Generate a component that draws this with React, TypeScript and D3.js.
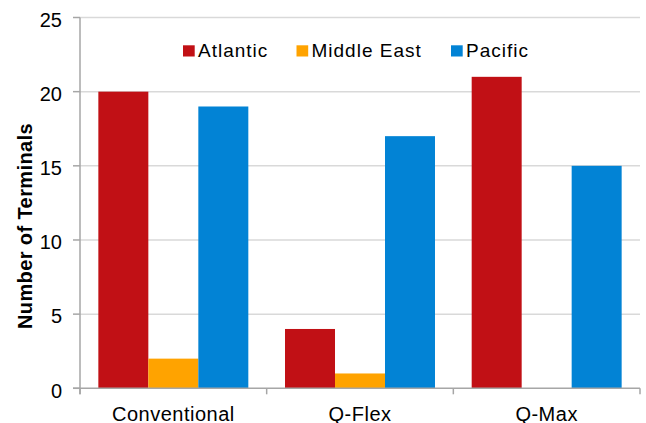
import React from "react";
import * as d3 from "d3";

const categories = ["Conventional", "Q-Flex", "Q-Max"];
const seriesNames = ["Atlantic", "Middle East", "Pacific"];
const atlantic = [20, 4, 21];
const middleEast = [2, 1, 0];
const pacific = [19, 17, 15];
const yTicks = [0, 5, 10, 15, 20, 25];
const colors = ["#C11015", "#FFA300", "#0283D5"];

const W = 646;
const H = 423;
const left = 80;
const right = 640;
const top = 17.5;
const bottom = 388.3;
const font = "Liberation Sans, Arial, sans-serif";

export default function App() {
  const series = [atlantic, middleEast, pacific];
  const x0 = d3.scaleBand<string>().domain(categories).range([left, right]).paddingInner(0).paddingOuter(0);
  const x1 = d3
    .scaleBand<string>()
    .domain(seriesNames)
    .range([0, x0.bandwidth()])
    .paddingInner(0)
    .paddingOuter(0.367);
  const y = d3.scaleLinear().domain([0, 25]).range([bottom, top]);
  const catTicks = [...categories.map((c) => x0(c) as number), right];
  const legendX = [183, 296.5, 451];

  return (
    <svg width={W} height={H} style={{ position: "absolute", left: 0, top: 0, background: "#fff" }}>
      {yTicks.map((t) =>
        t === 0 ? null : (
          <line key={"g" + t} x1={left} x2={right} y1={y(t)} y2={y(t)} stroke="#d9d9d9" strokeWidth={1.5} />
        )
      )}
      {categories.map((c, ci) =>
        seriesNames.map((s, si) => {
          const v = series[si][ci];
          if (v <= 0) return null;
          return (
            <rect
              key={c + s}
              x={(x0(c) as number) + (x1(s) as number)}
              y={y(v)}
              width={x1.bandwidth()}
              height={y(0) - y(v)}
              fill={colors[si]}
            />
          );
        })
      )}
      {/* axes */}
      <line x1={left} x2={left} y1={top} y2={bottom + 6} stroke="#a6a6a6" strokeWidth={1.5} />
      <line x1={left - 7} x2={right} y1={bottom} y2={bottom} stroke="#a6a6a6" strokeWidth={1.5} />
      {yTicks.map((t) => (
        <line key={"t" + t} x1={left - 7} x2={left} y1={y(t)} y2={y(t)} stroke="#a6a6a6" strokeWidth={1.5} />
      ))}
      {catTicks.map((xv, i) => (
        <line key={"ct" + i} x1={xv} x2={xv} y1={bottom} y2={bottom + 6} stroke="#a6a6a6" strokeWidth={1.5} />
      ))}
      {yTicks.map((t) => (
        <text key={"l" + t} x={62} y={y(t) + 9.3} textAnchor="end" fontFamily={font} fontSize={20} fill="#000">
          {t}
        </text>
      ))}
      {categories.map((c) => (
        <text
          key={"cl" + c}
          x={(x0(c) as number) + x0.bandwidth() / 2}
          y={420.5}
          textAnchor="middle"
          fontFamily={font}
          fontSize={20}
          letterSpacing={0.5}
          fill="#000"
        >
          {c}
        </text>
      ))}
      <text
        transform="translate(32.3,226) rotate(-90)"
        textAnchor="middle"
        fontFamily={font}
        fontSize={20}
        fontWeight="bold"
        letterSpacing={0.4}
        fill="#000"
      >
        Number of Terminals
      </text>
      {seriesNames.map((s, i) => (
        <g key={"lg" + s}>
          <rect x={legendX[i]} y={45.3} width={11.7} height={11.2} fill={colors[i]} />
          <text x={legendX[i] + 15} y={56.5} fontFamily={font} fontSize={19} letterSpacing={1} fill="#000">
            {s}
          </text>
        </g>
      ))}
    </svg>
  );
}
